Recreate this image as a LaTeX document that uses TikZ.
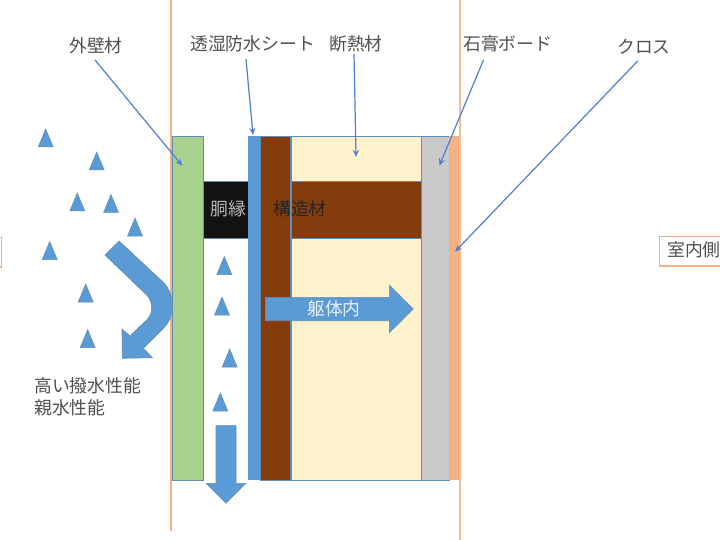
\documentclass[tikz,border=0pt]{standalone}
\usepackage{fontspec}
\setmainfont{Noto Sans CJK JP}
\usetikzlibrary{arrows.meta}
\definecolor{edgeblue}{HTML}{5F8FB4}
\definecolor{fillblue}{HTML}{5B9BD5}
\definecolor{lineorange}{HTML}{F4B183}
\definecolor{callout}{HTML}{4F7FD0}
\definecolor{wallgreen}{HTML}{A9D18E}
\definecolor{wood}{HTML}{843C0C}
\definecolor{cream}{HTML}{FFF2CC}
\definecolor{board}{HTML}{C9C9C9}
\definecolor{txt}{HTML}{505050}
\tikzset{
  x=1pt,y=-1pt,
  layer/.style={draw=edgeblue,line width=.8pt,inner sep=0pt,outer sep=0pt,anchor=north west},
  flat/.style={draw=none,inner sep=0pt,outer sep=0pt,anchor=north west},
  drop/.style={fill=fillblue,draw=edgeblue,line width=.5pt,line join=miter},
  bigarrow/.style={fill=fillblue,draw=edgeblue,line width=.6pt},
  lbl/.style={font=\fontsize{17.8pt}{20pt}\selectfont,text=txt,inner sep=0pt},
  callarrow/.style={draw=callout,line width=1.2pt,-{Stealth[length=7pt,width=6pt]}}
}
\newcommand{\layerbox}[7]{\node[layer,fill=#2,minimum width=#5pt,minimum height=#6pt] (#1) at (#3,#4) {#7};}
\newcommand{\flatbox}[6]{\node[flat,fill=#2,minimum width=#5pt,minimum height=#6pt] (#1) at (#3,#4) {};}
\newcommand{\dropat}[3]{\draw[drop] (#1,#2) -- (#1-7.5,#2+18) -- (#1+7.5,#2+18) -- cycle;}
\begin{document}
\begin{tikzpicture}
\useasboundingbox (0,0) rectangle (720,540);
\fill[white] (0,0) rectangle (720,540);
% orange rules
\flatbox{leftrule}{lineorange}{170}{0}{2}{531}
\flatbox{rightrule}{lineorange!85!white}{459}{0}{2}{540}
% side boxes
\flatbox{leftbox}{lineorange}{-8}{236.5}{10}{31}
\flatbox{leftboxin}{white}{-8}{237.8}{9}{28.4}
\flatbox{rightbox}{lineorange}{658.5}{236}{70}{30.5}
\flatbox{rightboxin}{white}{659.8}{237.3}{70}{28}
\node[lbl,anchor=west] (indoor) at (667,250) {室内側};
% wall layers
\layerbox{green}{wallgreen}{172}{136}{31}{344}{}
\layerbox{batten}{black!93}{203}{181}{45}{57}{}
\layerbox{cream1}{cream}{291}{136}{130.5}{344}{}
\layerbox{stud}{wood}{260.3}{136}{30.4}{344}{}
\layerbox{beam}{wood}{291}{181}{131}{57}{}
\flatbox{sheet}{fillblue}{248}{136}{12}{344}
\layerbox{gray}{board}{421.5}{136}{27.5}{344}{}
\flatbox{cross}{lineorange}{449}{136}{10}{344}
\node[lbl,text=white!72!black,anchor=west] (battentxt) at (210,208.5) {胴縁};
\node[lbl,text=black!85,anchor=west] (studtxt) at (273,209) {構造材};
% drops
\dropat{45.7}{129}{}
\dropat{96.7}{152}{}
\dropat{77.3}{193}{}
\dropat{111}{194.5}{}
\dropat{135}{218}{}
\dropat{49.7}{241.5}{}
\dropat{85.7}{284}{}
\dropat{87.7}{329.5}{}
\dropat{224.3}{256.5}{}
\dropat{222}{297}{}
\dropat{229.7}{349}{}
\dropat{220.3}{393}{}
% bent arrow
\draw[bigarrow] (119,241) -- (163.3,282.3)
  .. controls (169,288) and (172.5,297) .. (172.3,306.7)
  .. controls (172,316) and (169,323) .. (163.3,328.3)
  -- (143.3,348.3) -- (152.3,357.7) -- (122.3,358.3) -- (122,329) -- (130,336)
  -- (146.7,320) .. controls (150,316.5) and (151.7,312.5) .. (151.7,308.3)
  .. controls (151.7,303) and (150,298.5) .. (146.7,295) -- (105,255) -- cycle;
% down arrow
\draw[bigarrow] (216,425.7) -- (236,425.7) -- (236,483.3) -- (246,483.3) -- (226,503.3) -- (206,483.3) -- (216,483.3) -- cycle;
% right arrow
\draw[bigarrow] (265.3,297.3) -- (389.3,297.3) -- (389.3,285) -- (413.3,309) -- (389.3,332.7) -- (389.3,320.7) -- (265.3,320.7) -- cycle;
\node[lbl,text=white!85!fillblue,anchor=west] (bodytxt) at (307,309) {躯体内};
% labels
\node[lbl,anchor=west] (l1) at (69,46) {外壁材};
\node[lbl,anchor=west] (l2) at (190,44) {透湿防水シート};
\node[lbl,anchor=west] (l3) at (329,44) {断熱材};
\node[lbl,anchor=west] (l4) at (463,44) {石膏ボード};
\node[lbl,anchor=west] (l5) at (617,47) {クロス};
\node[lbl,anchor=west] (l6) at (34,386) {高い撥水性能};
\node[lbl,anchor=west] (l7) at (34,408) {親水性能};
% callouts
\coordinate (s1) at (95,60);   \coordinate (e1) at (182.3,165.7);
\coordinate (s2) at (246,59);  \coordinate (e2) at (253,135);
\coordinate (s3) at (354,54);  \coordinate (e3) at (356,157);
\coordinate (s4) at (483.5,60);\coordinate (e4) at (439.3,165.7);
\coordinate (s5) at (637.7,61);\coordinate (e5) at (455,251.7);
\draw[callarrow] (s1) -- (e1);
\draw[callarrow] (s2) -- (e2);
\draw[callarrow] (s3) -- (e3);
\draw[callarrow] (s4) -- (e4);
\draw[callarrow] (s5) -- (e5);
\end{tikzpicture}
\end{document}
